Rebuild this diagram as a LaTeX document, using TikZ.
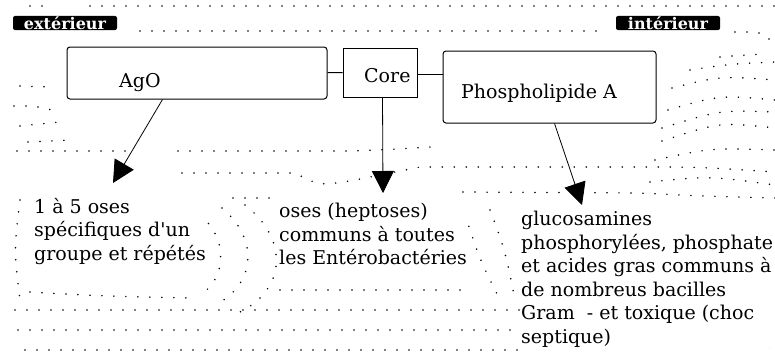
\documentclass[tikz,border=0pt]{standalone}
\usepackage{fontspec}
\usetikzlibrary{arrows.meta}
\newfontfamily\bodyfont{DejaVu Serif}
\newcommand{\lbfont}{\bodyfont\fontsize{19pt}{23.5pt}\selectfont}
\newcommand{\tgfont}{\bodyfont\fontsize{16pt}{16pt}\selectfont\bfseries}

\begin{document}
\begin{tikzpicture}[x=1pt, y=-1pt,
  box/.style={draw, line width=1pt, fill=white, inner sep=0pt},
  lbl/.style={font=\lbfont, inner sep=1pt, fill=white, align=left},
  sidetag/.style={fill=black, text=white, font=\tgfont, rounded corners=2pt, inner sep=0.5pt, minimum width=104pt, minimum height=13pt},
  arr/.style={line width=0.8pt, -{Triangle[length=22pt, width=22pt]}},
  specks/.style={line width=1.7pt, line cap=round, dash pattern=on 0pt off 12pt}]
\useasboundingbox[fill=white] (0,0) rectangle (775,354);

% speckled background
\draw[specks] (30,6) -- (45,6) (90,6) -- (775,6);
\draw[specks] (140,31) -- (602,31);
\draw[specks] (735,32) .. controls (765,32) .. (775,48);
\draw[specks] (20,86) -- (50,87);
\draw[specks] (14,106) .. controls (35,106) .. (52,110);
\draw[specks] (20,126) -- (60,122);
\draw[specks] (28,142) -- (72,140);
\draw[specks] (17,151) -- (125,151) (178,151) -- (350,151) .. controls (380,150) .. (430,147);
\draw[specks] (182,173) -- (295,173) .. controls (320,186) .. (355,180) -- (420,167) -- (640,167) .. controls (700,167) .. (775,172);
\draw[specks] (233,198) -- (280,198) (463,192) -- (640,193) .. controls (700,196) .. (775,198);
\draw[specks] (720,57) .. controls (745,55) .. (765,54);
\draw[specks] (690,70) .. controls (730,64) .. (775,62);
\draw[specks] (672,88) .. controls (720,76) .. (775,80);
\draw[specks] (668,110) .. controls (720,95) .. (775,100);
\draw[specks] (662,128) .. controls (720,110) .. (775,112);
\draw[specks] (662,141) .. controls (720,122) .. (775,128);
\draw[specks] (655,160) .. controls (710,148) .. (775,150);
\draw[specks] (650,182) .. controls (710,176) .. (775,185);
\draw[specks] (200,215) .. controls (230,240) and (225,280) .. (200,295);
\draw[specks] (222,208) .. controls (260,240) and (255,285) .. (215,305);
\draw[specks] (245,205) .. controls (290,240) and (285,290) .. (240,312);
\draw[specks] (465,215) .. controls (480,260) .. (500,300);
\draw[specks] (490,210) .. controls (505,250) .. (515,300);
\draw[specks] (20,200) .. controls (14,250) .. (20,300);
\draw[specks] (772,300) .. controls (766,325) .. (770,350);
\draw[specks] (30,292) .. controls (100,296) .. (190,298);
\draw[specks] (280,290) -- (460,290);
\draw[specks] (15,310) -- (520,310);
\draw[specks] (18,330) -- (520,330);
\draw[specks] (25,350) -- (520,350);

% side tags
\node[sidetag] (ext) at (65,23) {extérieur};
\node[sidetag] (int) at (668,23) {intérieur};

% the three parts
\node[box, rounded corners=3pt, minimum width=260pt, minimum height=52pt] (ago) at (197,73) {};
\node[box, minimum width=74pt, minimum height=49pt] (core) at (380,72.5) {};
\node[box, rounded corners=3pt, minimum width=213pt, minimum height=72pt] (lipa) at (549.5,87) {};
\node[lbl, anchor=base west] (agotxt) at (118,87) {AgO};
\node[lbl, anchor=base west] (coretxt) at (363,82) {Core};
\node[lbl, anchor=base west] (lipatxt) at (460,98) {Phospholipide A};

\draw[line width=1pt] (ago) -- (core);
\draw[line width=1pt] ([yshift=-2pt]core.east) -- ([yshift=-2pt]core.east -| lipa.west);

% descriptions
\node[lbl, anchor=north west] (t1) at (33,197) {1 à 5 oses\\spécifiques d'un\\groupe et répétés};
\node[lbl, anchor=north west] (t2) at (278,202) {oses (heptoses)\\communs à toutes\\les Entérobactéries};
\node[lbl, anchor=north west] (t3) at (520,210) {glucosamines\\phosphorylées, phosphate\\et acides gras communs à\\de nombreus bacilles\\Gram \ - et toxique (choc\\septique)};

\coordinate (tip1) at (113,183);
\coordinate (tip2) at (383,193);
\coordinate (tip3) at (582,205);
\draw[arr] ([xshift=96pt]ago.south west) -- (tip1);
\draw[arr] ([xshift=40pt]core.south west) -- (tip2);
\draw[arr] ([xshift=112pt]lipa.south west) -- (tip3);
\end{tikzpicture}
\end{document}
